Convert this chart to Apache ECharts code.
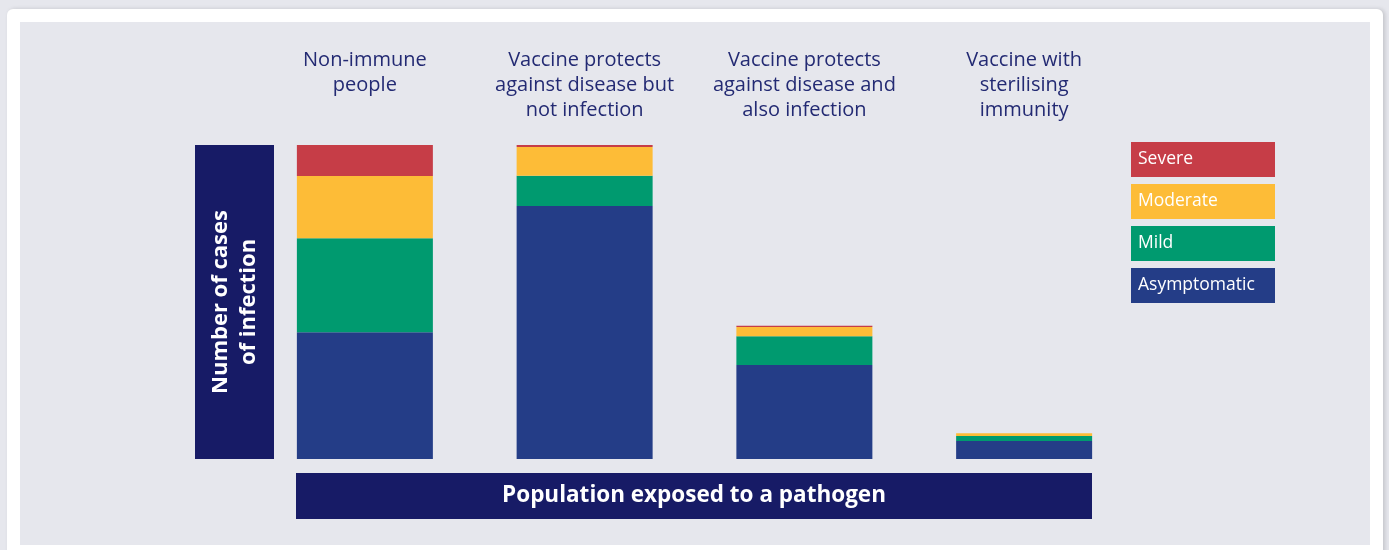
<!DOCTYPE html>
<html>
<head>
<meta charset="utf-8">
<script src="https://cdn.jsdelivr.net/npm/echarts@6/dist/echarts.min.js"></script>
<style>
  html, body { margin: 0; padding: 0; width: 1389px; height: 550px; overflow: hidden; background: #e6e7ed; }
  #card { position: absolute; left: 7px; top: 9px; width: 1376px; height: 560px; background: #ffffff; border-radius: 6px; box-shadow: 2px 0 4px rgba(0,0,0,0.15); }
  #panel { position: absolute; left: 20px; top: 22px; width: 1350px; height: 523px; background: #e6e7ed; }
  #chart { position: absolute; left: 0; top: 0; width: 1389px; height: 550px; }
</style>
</head>
<body>
<div id="card"></div>
<div id="panel"></div>
<div id="chart"></div>
<script>
const categories = ['Non-immune\npeople', 'Vaccine protects\nagainst disease but\nnot infection', 'Vaccine protects\nagainst disease and\nalso infection', 'Vaccine with\nsterilising\nimmunity'];
const asymptomatic = [40.4, 80.6, 29.9, 5.7];
const mild = [29.9, 9.6, 9.2, 1.6];
const moderate = [19.8, 9.2, 2.9, 0.9];
const severe = [9.9, 0.6, 0.4, 0];
const seriesNames = ['Asymptomatic', 'Mild', 'Moderate', 'Severe'];
const legendOrder = ['Severe', 'Moderate', 'Mild', 'Asymptomatic'];
const yAxisTitle = 'Number of cases\nof infection';
const xAxisTitle = 'Population exposed to a pathogen';

const colors = { Severe: '#c63d47', Moderate: '#fdbc37', Mild: '#009a6f', Asymptomatic: '#243d87' };
const values = { Asymptomatic: asymptomatic, Mild: mild, Moderate: moderate, Severe: severe };
const font = '"Open Sans", "Noto Sans", sans-serif';

const chart = echarts.init(document.getElementById('chart'), null, { renderer: 'canvas' });
chart.setOption({
  backgroundColor: 'transparent',
  animation: false,
  grid: { left: 255, top: 145, width: 879, height: 314 },
  xAxis: [
    { type: 'category', data: categories, position: 'bottom', axisLine: { show: false }, axisTick: { show: false }, axisLabel: { show: false } },
    { type: 'category', data: categories, position: 'top', axisLine: { show: false }, axisTick: { show: false },
      axisLabel: { show: true, interval: 0, verticalAlign: 'top', margin: 97, color: '#232a73', fontFamily: font, fontSize: 20, lineHeight: 25, align: 'center' } }
  ],
  yAxis: { type: 'value', min: 0, max: 100, show: false },
  legend: {
    orient: 'vertical', left: 1126, top: 142, padding: 0, itemGap: 7, itemWidth: 0, itemHeight: 0, icon: 'rect', selectedMode: false,
    data: legendOrder.map(n => ({ name: n, itemStyle: { opacity: 0 }, textStyle: {
      color: '#ffffff', fontFamily: font, fontSize: 17.5, backgroundColor: colors[n], width: 130, height: 35, lineHeight: 35, padding: [0, 7, 0, 7]
    } }))
  },
  series: seriesNames.map(n => ({
    name: n, type: 'bar', stack: 'cases', barWidth: 136, xAxisIndex: 0,
    itemStyle: { color: colors[n] }, data: values[n], emphasis: { disabled: true }
  })),
  graphic: [
    { type: 'rect', shape: { x: 195, y: 145, width: 79, height: 314 }, style: { fill: '#171b66' }, silent: true },
    { type: 'text', x: 235, y: 302, rotation: Math.PI / 2, style: { text: yAxisTitle, fill: '#ffffff', font: 'bold 22px ' + font, align: 'center', verticalAlign: 'middle', lineHeight: 28 }, silent: true },
    { type: 'rect', shape: { x: 296, y: 473, width: 796, height: 46 }, style: { fill: '#171b66' }, silent: true },
    { type: 'text', x: 694, y: 496, style: { text: xAxisTitle, fill: '#ffffff', font: 'bold 22.5px ' + font, align: 'center', verticalAlign: 'middle' }, silent: true }
  ]
});
</script>
</body>
</html>
